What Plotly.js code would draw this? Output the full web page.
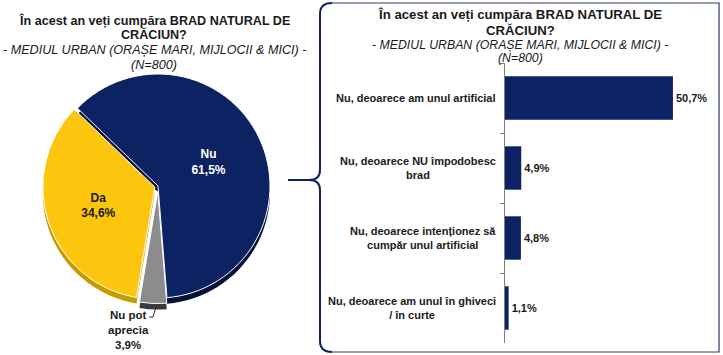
<!DOCTYPE html>
<html>
<head>
<meta charset="utf-8">
<script src="https://cdn.plot.ly/plotly-3.0.1.min.js"></script>
<style>html,body{margin:0;padding:0;background:#fff;}#chart{width:723px;height:355px;}</style>
</head>
<body>
<div id="chart"></div>
<script>
// ---- data ----
const pieLabels = ['Nu', 'Nu pot<br>aprecia', 'Da'];
const pieValues = [61.5, 3.9, 34.6];
const barCategories = [
  'Nu, deoarece am unul artificial',
  'Nu, deoarece NU împodobesc<br>brad',
  'Nu, deoarece intenționez să<br>cumpăr unul artificial',
  'Nu, deoarece am unul în ghiveci<br>/ în curte'
];
const barValues = [50.7, 4.9, 4.8, 1.1];
const titleLines = [
  'În acest an veți cumpăra BRAD NATURAL DE',
  'CRĂCIUN?',
  '- MEDIUL URBAN (ORAȘE MARI, MIJLOCII & MICI) -',
  '(N=800)'
];

// ---- helpers (pixel -> paper) ----
const W = 723, H = 355;
const px = x => x / W;
const py = y => 1 - y / H;
const P = (x, y) => px(x).toFixed(4) + ',' + py(y).toFixed(4);
const pct = v => v.toFixed(1).replace('.', ',') + '%';

const NAVY = '#0d2262';
const YELLOW = '#fcc60f';
const GRAY = '#8c8c8c';
const TXT = '#1a1a1a';
const FONT = 'Liberation Sans, Arial, sans-serif';

const pieCx = 158, pieCy = 186, pieR = 112, maxPull = 0.05, depth = 6;
const half = pieR * (1 + maxPull);
const pieDomain = (dy) => ({x: [px(pieCx - half), px(pieCx + half)], y: [py(pieCy + dy + half), py(pieCy + dy - half)]});

const pieShadow = {
  type: 'pie',
  labels: pieLabels,
  values: pieValues,
  sort: false,
  direction: 'clockwise',
  rotation: -46,
  pull: [0, 0.05, 0.03],
  marker: {colors: ['#06123a', '#3a3a3a', '#c99a00'], line: {color: '#ffffff', width: 0}},
  textinfo: 'none',
  hoverinfo: 'none',
  showlegend: false,
  domain: pieDomain(depth)
};

const pie = {
  type: 'pie',
  labels: pieLabels,
  values: pieValues,
  sort: false,
  direction: 'clockwise',
  rotation: -46,
  pull: [0, 0.05, 0.03],
  marker: {colors: [NAVY, GRAY, YELLOW], line: {color: '#ffffff', width: 1}},
  texttemplate: ['<b>%{label}<br>%{value:.1f}%</b>', '', '<b>%{label}<br>%{value:.1f}%</b>'],
  textposition: ['inside', 'none', 'inside'],
  insidetextorientation: 'horizontal',
  textfont: {family: FONT, size: 12, color: ['#ffffff', TXT, TXT]},
  hoverinfo: 'none',
  showlegend: false,
  domain: pieDomain(0)
};

const bar = {
  type: 'bar',
  orientation: 'h',
  x: barValues,
  y: barCategories,
  xaxis: 'x',
  yaxis: 'y',
  marker: {color: NAVY},
  width: 0.62,
  texttemplate: '<b>%{x:.1f}%</b>',
  textposition: 'outside',
  cliponaxis: false,
  textfont: {family: FONT, size: 11, color: TXT},
  hoverinfo: 'none',
  showlegend: false
};

const annotations = [];
const leftY = [20, 35, 50, 65];
const rightY = [15, 30, 45, 58];
titleLines.forEach((t, i) => {
  const bold = i < 2;
  const txt = bold ? '<b>' + t + '</b>' : '<i>' + t + '</i>';
  annotations.push({text: txt, xref: 'paper', yref: 'paper', x: px(154), y: py(leftY[i]),
    xanchor: 'center', yanchor: 'middle', showarrow: false,
    font: {family: FONT, size: 12.6, color: TXT}});
  annotations.push({text: txt, xref: 'paper', yref: 'paper', x: px(520), y: py(rightY[i]),
    xanchor: 'center', yanchor: 'middle', showarrow: false,
    font: {family: FONT, size: bold ? 13.2 : 12.3, color: TXT}});
});
// outside label of the small pie slice
annotations.push({text: '<b>' + pieLabels[1] + '<br>' + pct(pieValues[1]) + '</b>',
  xref: 'paper', yref: 'paper', x: px(128), y: py(330), xanchor: 'center', yanchor: 'middle',
  showarrow: false, align: 'center', font: {family: FONT, size: 11.5, color: TXT}});
barCategories.forEach(c => annotations.push({
  text: '<b>' + c + '</b>', xref: 'paper', yref: 'y', x: px(498), y: c,
  xanchor: 'right', yanchor: 'middle', showarrow: false, align: 'center',
  font: {family: FONT, size: 11, color: TXT}
}));

const bracePath =
  'M ' + P(288, 180) + ' L ' + P(309, 180) + ' Q ' + P(320, 180) + ' ' + P(320, 170) +
  ' L ' + P(320, 14) + ' Q ' + P(320, 3) + ' ' + P(332, 3) +
  ' M ' + P(309, 180) + ' Q ' + P(320, 180) + ' ' + P(320, 190) +
  ' L ' + P(320, 341) + ' Q ' + P(320, 352) + ' ' + P(332, 352);
const boxPath = 'M ' + P(332, 3) + ' L ' + P(719, 3) + ' L ' + P(719, 352) + ' L ' + P(332, 352);
const leaderPath = 'M ' + P(149, 317) + ' L ' + P(153, 317) + ' L ' + P(156, 307);

const layout = {
  width: W, height: H,
  margin: {l: 0, r: 0, t: 0, b: 0},
  paper_bgcolor: '#ffffff', plot_bgcolor: 'rgba(0,0,0,0)',
  separators: ',.',
  font: {family: FONT, color: TXT},
  xaxis: {domain: [px(505), px(715)], range: [0, 63.4], visible: false, fixedrange: true},
  yaxis: {domain: [py(343), py(63)], anchor: 'x', autorange: 'reversed', type: 'category',
          showticklabels: false, showline: true, linecolor: '#7f7f7f', linewidth: 1,
          ticks: 'outside', tickson: 'boundaries', ticklen: 4, tickcolor: '#7f7f7f',
          showgrid: false, zeroline: false, fixedrange: true},
  bargap: 0.38,
  annotations: annotations,
  shapes: [
    {type: 'path', xref: 'paper', yref: 'paper', path: bracePath, line: {color: NAVY, width: 2}},
    {type: 'path', xref: 'paper', yref: 'paper', path: boxPath, line: {color: '#2b3a6e', width: 1.2}},
    {type: 'path', xref: 'paper', yref: 'paper', path: leaderPath, line: {color: '#333333', width: 1}}
  ]
};

Plotly.newPlot('chart', [pieShadow, pie, bar], layout, {staticPlot: true, displayModeBar: false});
</script>
</body>
</html>
